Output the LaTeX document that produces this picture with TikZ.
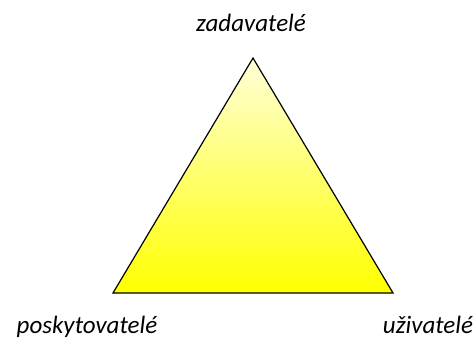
\documentclass[tikz,border=0pt]{standalone}
\usepackage{fontspec}
\setmainfont{Carlito}
\begin{document}
\begin{tikzpicture}[x=1pt,y=1pt,
  lbl/.style={font=\fontsize{25}{29}\selectfont\itshape, inner sep=0pt, anchor=base}]
\useasboundingbox (0,0) rectangle (476,340);
\coordinate (top) at (253,282);
\coordinate (bl) at (113,47);
\coordinate (br) at (393,47);
\shade[top color=yellow!15, bottom color=yellow, draw=black, line width=1.2pt, line join=miter]
  (top) -- (bl) -- (br) -- cycle;
\node[lbl] (z) at (251,308) {zadavatelé};
\node[lbl] (p) at (87,7) {poskytovatelé};
\node[lbl] (u) at (428,7) {uživatelé};
\end{tikzpicture}
\end{document}
